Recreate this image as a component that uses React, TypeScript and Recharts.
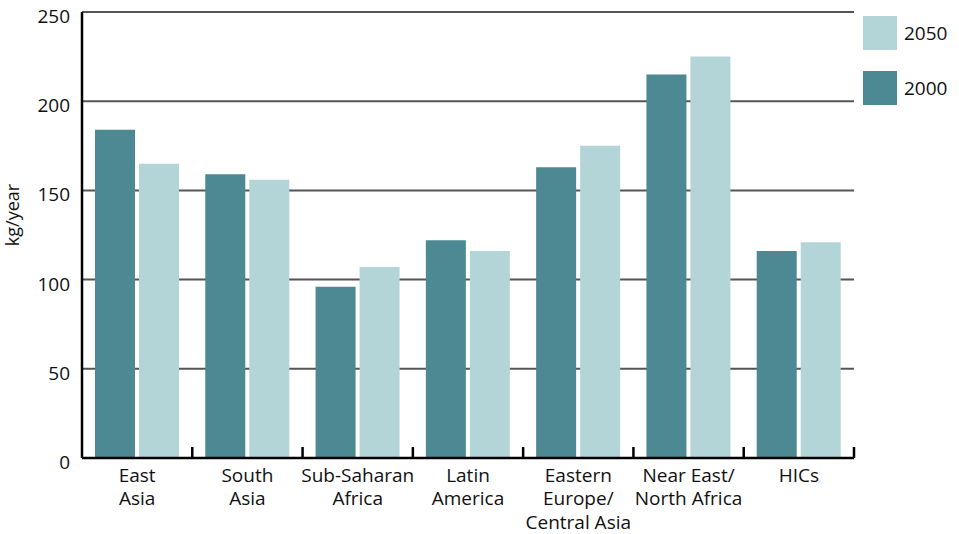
import React from "react";
import { BarChart, Bar, XAxis, YAxis, CartesianGrid, Legend } from "recharts";

const categories = [
  "East\nAsia",
  "South\nAsia",
  "Sub-Saharan\nAfrica",
  "Latin\nAmerica",
  "Eastern\nEurope/\nCentral Asia",
  "Near East/\nNorth Africa",
  "HICs",
];
const values2000 = [184, 159, 96, 122, 163, 215, 116];
const values2050 = [165, 156, 107, 116, 175, 225, 121];
const yTicks = [0, 50, 100, 150, 200, 250];

const data = categories.map((c, i) => ({ region: c, y2000: values2000[i], y2050: values2050[i] }));

const FONT = "'Open Sans', 'DejaVu Sans', sans-serif";
const DARK = "#4c8992";
const LIGHT = "#b3d5d8";

const XTick = (props: any) => {
  const { x, y, payload, width, visibleTicksCount } = props;
  const count = visibleTicksCount || categories.length;
  const band = (typeof width === "number" ? width : 772) / count;
  const lines = String(payload.value).split("\n");
  return (
    <g>
      <line x1={x + band / 2} x2={x + band / 2} y1={y - 11} y2={y} stroke="#000" strokeWidth={2.5} />
      <text x={x} y={y} textAnchor="middle" fontFamily={FONT} fontSize={19} fill="#111">
        {lines.map((l, i) => (
          <tspan key={i} x={x} dy={i === 0 ? 24 : 23.3}>
            {l}
          </tspan>
        ))}
      </text>
    </g>
  );
};

const YTick = (props: any) => {
  const { x, y, payload } = props;
  return (
    <text x={x} y={y} dy={11} textAnchor="end" fontFamily={FONT} fontSize={19} fill="#111">
      {payload.value}
    </text>
  );
};

const LegendContent = (props: any) => {
  const items = [...(props.payload || [])].reverse();
  return (
    <div>
      {items.map((it: any, i: number) => (
        <div key={i} style={{ display: "flex", alignItems: "center", height: 34, marginBottom: 21 }}>
          <div style={{ width: 34, height: 34, background: it.color }} />
          <span style={{ marginLeft: 7, fontFamily: FONT, fontSize: 19, color: "#111" }}>{it.value}</span>
        </div>
      ))}
    </div>
  );
};

const YLabel = (props: any) => {
  const vb = props.viewBox || { x: 0, y: 0, height: 0 };
  const cx = 19;
  const cy = vb.y + vb.height / 2 - 20;
  return (
    <text
      x={cx}
      y={cy}
      transform={`rotate(-90, ${cx}, ${cy})`}
      textAnchor="middle"
      fontFamily={FONT}
      fontSize={18}
      fill="#111"
    >
      kg/year
    </text>
  );
};

export default function App() {
  return (
    <div style={{ position: "absolute", left: 0, top: 0, background: "#fff" }}>
      <BarChart
        width={959}
        height={534}
        data={data}
        margin={{ top: 12, right: 9, left: 0, bottom: 0 }}
        barCategoryGap={13}
        barGap={4}
      >
        <CartesianGrid horizontal vertical={false} stroke="#555" strokeWidth={2} />
        <XAxis
          dataKey="region"
          height={76}
          tickLine={false}
          tickSize={0}
          tickMargin={0}
          axisLine={{ stroke: "#000", strokeWidth: 2.5 }}
          tick={<XTick />}
          interval={0}
        />
        <YAxis
          width={82}
          domain={[0, 250]}
          ticks={yTicks}
          tickLine={false}
          tickSize={0}
          tickMargin={12}
          axisLine={{ stroke: "#000", strokeWidth: 2.5 }}
          tick={<YTick />}
          label={<YLabel />}
        />
        <Legend
          layout="vertical"
          verticalAlign="top"
          align="right"
          content={<LegendContent />}
          wrapperStyle={{ position: "absolute", left: 863, top: 16, width: 96 }}
        />
        <Bar dataKey="y2000" name="2000" fill={DARK} isAnimationActive={false} />
        <Bar dataKey="y2050" name="2050" fill={LIGHT} isAnimationActive={false} />
      </BarChart>
    </div>
  );
}
